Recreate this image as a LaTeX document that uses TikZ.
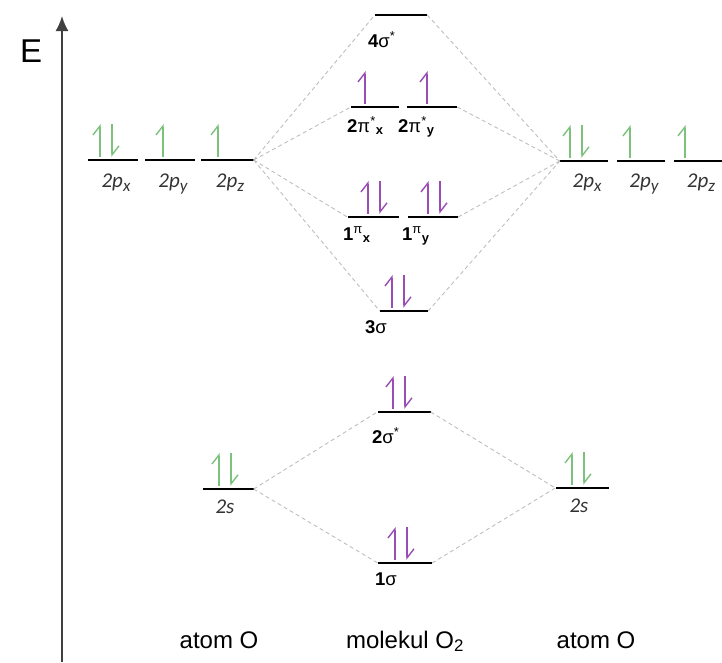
\documentclass[tikz,border=0pt]{standalone}
\usepackage{fontspec}
\setmainfont{Liberation Sans}
\newfontfamily\orbfont{Carlito}
\usetikzlibrary{arrows.meta,positioning}
\definecolor{leaf}{HTML}{7CC27C}
\definecolor{plum}{HTML}{9A4DB4}
\definecolor{ash}{HTML}{BEBEBE}
\tikzset{lvl/.style={fill=black,inner sep=0pt,minimum height=1.8pt,minimum width=#1},lvl/.default=50pt, corr/.style={draw=ash,line width=.9pt,dash pattern=on 4pt off 3pt}, spin/.style={line width=1.4pt,-{Straight Barb[left,length=9pt,width=14pt]}}, aolab/.style={font=\orbfont\itshape\fontsize{21}{21}\selectfont,text=black!80,anchor=base,inner sep=0pt}, molab/.style={font=\fontsize{18.5}{18.5}\selectfont,anchor=base west,inner sep=0pt}, sidelab/.style={font=\fontsize{24}{24}\selectfont,anchor=base,inner sep=0pt}}
\newcommand\spinup[3]{\draw[spin,#3] ([xshift=#2]#1.north) ++(0,-2) -- ++(0,-33);}
\newcommand\spinpair[3]{\draw[spin,#3] ([xshift=#2]#1.north) ++(0,-2) -- ++(0,-33);
 \draw[spin,#3] ([xshift=#2+12]#1.north) ++(0,-35) -- ++(0,33);}
\newcommand\orb[2]{2#1\raisebox{-.22em}{\fontsize{17}{17}\selectfont #2}}
\newcommand\starsub[1]{\textsuperscript{*}\textsubscript{\textbf{#1}}}
\begin{document}
\begin{tikzpicture}[x=1pt,y=-1pt]
\useasboundingbox (0,0) rectangle (722,662);
% energy axis
\coordinate (axbot) at (62,662);
\coordinate (axtop) at (62,16);
\draw[black!75,line width=1.8pt,-{Latex[length=15pt,width=13pt]}] (axbot) -- (axtop);
\node[font=\fontsize{33}{33}\selectfont,anchor=base west,inner sep=0pt] (en) at (20,62) {E};
% atomic levels
\node[lvl] (lpx) at (113,160) {};
\node[lvl] (lpy) at (170,160) {};
\node[lvl=53pt] (lpz) at (227,160) {};
\node[lvl=48pt] (rpx) at (584,161) {};
\node[lvl=48pt] (rpy) at (641,161) {};
\node[lvl=48pt] (rpz) at (698,161) {};
\node[lvl=51pt] (ls) at (228,489) {};
\node[lvl=53pt] (rs) at (582,488) {};
% molecular levels
\node[lvl=52pt] (s4) at (401,15) {};
\node[lvl=48pt] (pi2x) at (375,107) {};
\node[lvl] (pi2y) at (432,107) {};
\node[lvl=51pt] (pi1x) at (373,217) {};
\node[lvl] (pi1y) at (433,217) {};
\node[lvl=48pt] (s3) at (404,311) {};
\node[lvl=53pt] (s2) at (404,412) {};
\node[lvl=54pt] (s1) at (405,563) {};
% correlation lines
\foreach \m in {s4,pi2x,pi1x,s3} \draw[corr] (lpz.east) -- (\m.west);
\foreach \m in {s4,pi2y,pi1y,s3} \draw[corr] (\m.east) -- (rpx.west);
\foreach \m in {s2,s1} {\draw[corr] (ls.east) -- (\m.west); \draw[corr] (\m.east) -- (rs.west);}
% electrons
\spinpair{lpx}{-13}{leaf} \spinup{lpy}{-7}{leaf} \spinup{lpz}{-9}{leaf}
\spinpair{rpx}{-14}{leaf} \spinup{rpy}{-11}{leaf} \spinup{rpz}{-13}{leaf}
\spinpair{ls}{-9}{leaf} \spinpair{rs}{-10}{leaf}
\spinup{pi2x}{-10}{plum} \spinup{pi2y}{-5}{plum}
\spinpair{pi1x}{-5}{plum} \spinpair{pi1y}{-5}{plum}
\spinpair{s3}{-12}{plum} \spinpair{s2}{-11}{plum} \spinpair{s1}{-10}{plum}
% labels
\node[aolab] (tlpx) at (116,187) {\orb{p}{x}};
\node[aolab] (tlpy) at (173,187) {\orb{p}{y}};
\node[aolab] (tlpz) at (230,187) {\orb{p}{z}};
\node[aolab] (trpx) at (587,187) {\orb{p}{x}};
\node[aolab] (trpy) at (644,187) {\orb{p}{y}};
\node[aolab] (trpz) at (701,187) {\orb{p}{z}};
\node[aolab] (tls) at (225,513) {2s};
\node[aolab] (trs) at (579,512) {2s};
\node[molab] (ts4) at (368,47) {\textbf{4}σ\textsuperscript{*}};
\node[molab] (tpi2x) at (347,132) {\textbf{2}π\starsub{x}};
\node[molab] (tpi2y) at (398,132) {\textbf{2}π\starsub{y}};
\node[molab] (tpi1x) at (343,240) {\textbf{1}\textsuperscript{π}\textsubscript{\textbf{x}}};
\node[molab] (tpi1y) at (402,240) {\textbf{1}\textsuperscript{π}\textsubscript{\textbf{y}}};
\node[molab] (ts3) at (365,333) {\textbf{3}σ};
\node[molab] (ts2) at (372,443) {\textbf{2}σ\textsuperscript{*}};
\node[molab] (ts1) at (375,585) {\textbf{1}σ};
\node[sidelab] (al) at (219,648) {atom O};
\node[sidelab] (mo) at (405,648) {molekul O\textsubscript{2}};
\node[sidelab] (ar) at (596,648) {atom O};
\end{tikzpicture}
\end{document}
